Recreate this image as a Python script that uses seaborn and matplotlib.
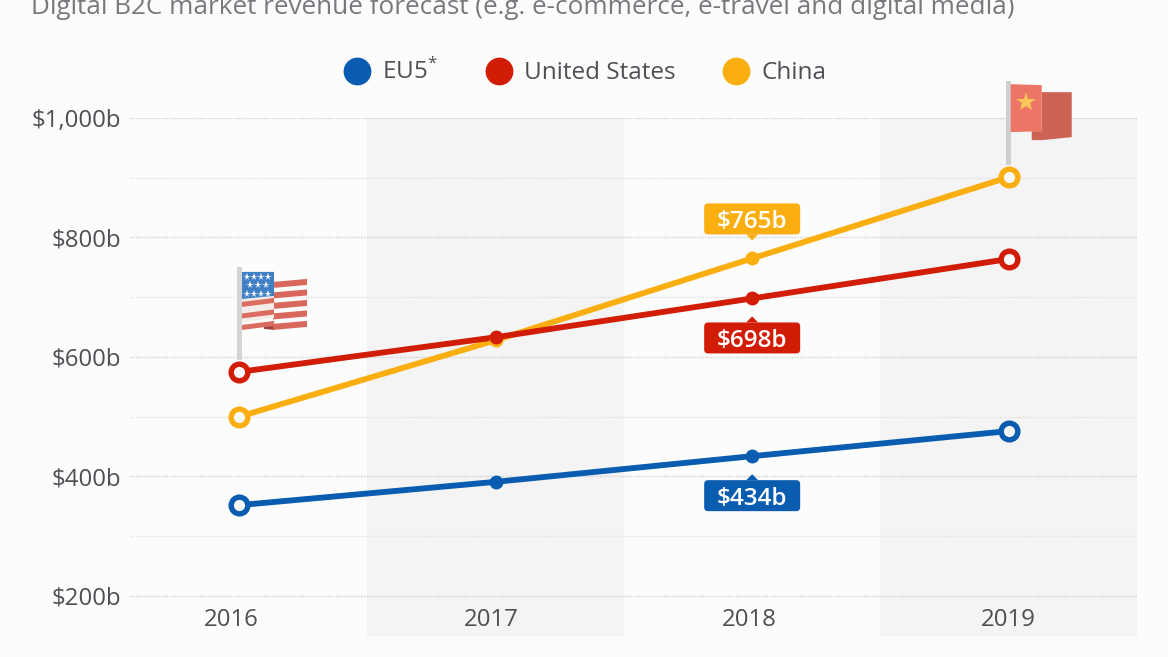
import matplotlib
matplotlib.use('Agg')
import matplotlib.pyplot as plt
import pandas as pd
import seaborn as sns
from matplotlib.lines import Line2D
from matplotlib.patches import FancyBboxPatch, Polygon, Rectangle
from matplotlib.transforms import Affine2D

years = ['2016', '2017', '2018', '2019']
eu5 = [352, 391, 434, 476]
usa = [575, 633, 698, 764]
china = [500, 628, 765, 901]
y_ticks = [200, 400, 600, 800, 1000]
y_minor = [300, 500, 700, 900]
y_labels = ['$200b', '$400b', '$600b', '$800b', '$1,000b']

BLUE = '#0a5cb0'
RED = '#d11d06'
YELLOW = '#fbae0f'
TEXT = '#4d4f55'
BG = '#fcfcfc'

sns.set_theme(style='white')
plt.rcParams['font.family'] = ['Open Sans', 'DejaVu Sans']
plt.rcParams['mathtext.fontset'] = 'custom'
plt.rcParams['mathtext.rm'] = 'Open Sans'

df = pd.DataFrame({
    'year': list(range(4)) * 3,
    'region': ['EU5'] * 4 + ['United States'] * 4 + ['China'] * 4,
    'revenue': eu5 + usa + china,
})
palette = {'EU5': BLUE, 'United States': RED, 'China': YELLOW}

W, H = 1168, 657
fig = plt.figure(figsize=(W / 100, H / 100), dpi=100, facecolor=BG)
ax = fig.add_axes([130 / W, 1 - 636 / H, (1137 - 130) / W, (636 - 118) / H], facecolor=BG)

# shaded bands behind every second year
ax.axvspan(0.5, 1.5, color='#f4f4f4', lw=0, zorder=0)
ax.axvspan(2.5, 3.5, color='#f4f4f4', lw=0, zorder=0)

for v in y_ticks:
    ax.axhline(v, color='#d0d0d0', lw=1, ls=(0, (1, 1)), zorder=1)
for v in y_minor:
    ax.axhline(v, color='#e0e0e0', lw=1, ls=(0, (1, 1)), zorder=1)

sns.lineplot(data=df, x='year', y='revenue', hue='region', palette=palette,
             hue_order=['China', 'United States', 'EU5'], lw=4.2, legend=False,
             errorbar=None, ax=ax, zorder=3)
ax.set_xlim(-0.425, 3.5)
ax.set_ylim(133, 1000)

# the year labels sit slightly left of their points in the original
ax.set_xticks([-0.031, 0.985, 1.988, 3.0], years)
ax.set_yticks(y_ticks, y_labels)
ax.set_xlabel('')
ax.set_ylabel('')
ax.tick_params(axis='x', length=0, pad=-20, labelsize=17.3, labelcolor=TEXT)
ax.tick_params(axis='y', length=0, pad=6.5, labelsize=17.3, labelcolor=TEXT)
sns.despine(ax=ax, left=True, bottom=True)

# open circles on the first and last year, small dots in between
for name, vals in [('China', china), ('United States', usa), ('EU5', eu5)]:
    c = palette[name]
    ax.plot([0, 3], [vals[0], vals[3]], ls='', marker='o', ms=12, mew=3.9, mfc='#f8f8f8', mec=c,
            zorder=5, clip_on=False)
    ax.plot([1, 2], [vals[1], vals[2]], ls='', marker='o', ms=10, mew=0, color=c, zorder=4)


def anchored(x, y):
    # pixel offsets from a data point, y running downwards like the picture
    px, py = ax.transData.transform((x, y))
    return Affine2D().scale(1, -1).translate(px, py)


def callout(x, y, text, color, above):
    tr = anchored(x, y)
    if above:
        top, bottom, tip = -55, -24, -18
        base = bottom
    else:
        top, bottom, tip = 24, 55, 18
        base = top
    ax.add_patch(FancyBboxPatch((-44, top + 4), 88, bottom - top - 8, boxstyle='round,pad=4,rounding_size=4',
                                fc=color, ec='none', transform=tr, zorder=6))
    ax.add_patch(Polygon([(-6, base), (6, base), (0, tip)], fc=color, ec='none', transform=tr, zorder=6))
    ax.text(0, (top + bottom) / 2, text, color='white', fontsize=17.5, fontweight='semibold', ha='center',
            va='center_baseline', transform=tr, zorder=7)


callout(2, china[2], '$765b', YELLOW, True)
callout(2, usa[2], '$698b', RED, False)
callout(2, eu5[2], '$434b', BLUE, False)


def rect(tr, x0, y0, x1, y1, color, z=2):
    ax.add_patch(Rectangle((x0, y0), x1 - x0, y1 - y0, fc=color, ec='none', transform=tr, zorder=z, clip_on=False))


def poly(tr, pts, color, z=2):
    ax.add_patch(Polygon(pts, fc=color, ec='none', transform=tr, zorder=z, clip_on=False))


# US flag on the first point
tr = anchored(0, usa[0])
rect(tr, -2, -105, 3, -12, '#d4d4d4')
poly(tr, [(25, -48), (36, -48), (36, -42), (25, -43)], '#9c4238')
for i in range(5):
    off = i * 10.5
    poly(tr, [(34, -90 + off), (68, -93 + off), (68, -87 + off), (34, -84 + off)], '#d9675c')
poly(tr, [(3, -100), (35, -100), (35, -54), (3, -50)], '#f3ece8', z=3)
for off in (0, 11.5, 23):
    poly(tr, [(3, -70 + off), (35, -74 + off), (35, -69 + off), (3, -65 + off)], '#dd6c60', z=3)
poly(tr, [(3, -100), (35, -100), (35, -76), (3, -73)], '#3f7fc4', z=4)
for row, xs in enumerate([(8, 15, 22, 29), (11, 19, 27), (8, 15, 22, 29)]):
    for sx in xs:
        ax.plot(sx, -95 + row * 8.5, marker='*', ms=5.5, mew=0, color='white', transform=tr, zorder=5, clip_on=False)

# China flag on the last point
tr = anchored(3, china[3])
rect(tr, -3, -96, 2, -12, '#cfcfcf')
poly(tr, [(33, -85), (63, -85), (63, -40), (33, -37), (23, -37), (23, -46), (33, -46)], '#cd6355')
poly(tr, [(2, -93), (33, -92), (33, -46), (2, -45)], '#ec7565', z=3)
ax.plot(17, -75, marker='*', ms=15, mew=0, color='#f9c65a', transform=tr, zorder=4, clip_on=False)

handles = [Line2D([], [], ls='', marker='o', ms=20, mew=0, color=c) for c in (BLUE, RED, YELLOW)]
fig.legend(handles, ['EU5$^{*}$', 'United States', 'China'], ncol=3, frameon=False, fontsize=17.5,
           labelcolor=TEXT, loc='center', bbox_to_anchor=(579.5 / W, 1 - 72 / H), bbox_transform=fig.transFigure,
           handletextpad=0.03, columnspacing=1.5)

fig.text(31 / W, 1 - 14 / H, 'Digital B2C market revenue forecast (e.g. e-commerce, e-travel and digital media)',
         fontsize=18.8, color='#77797e', va='baseline')

fig.savefig('out.png', dpi=100, facecolor=BG)
